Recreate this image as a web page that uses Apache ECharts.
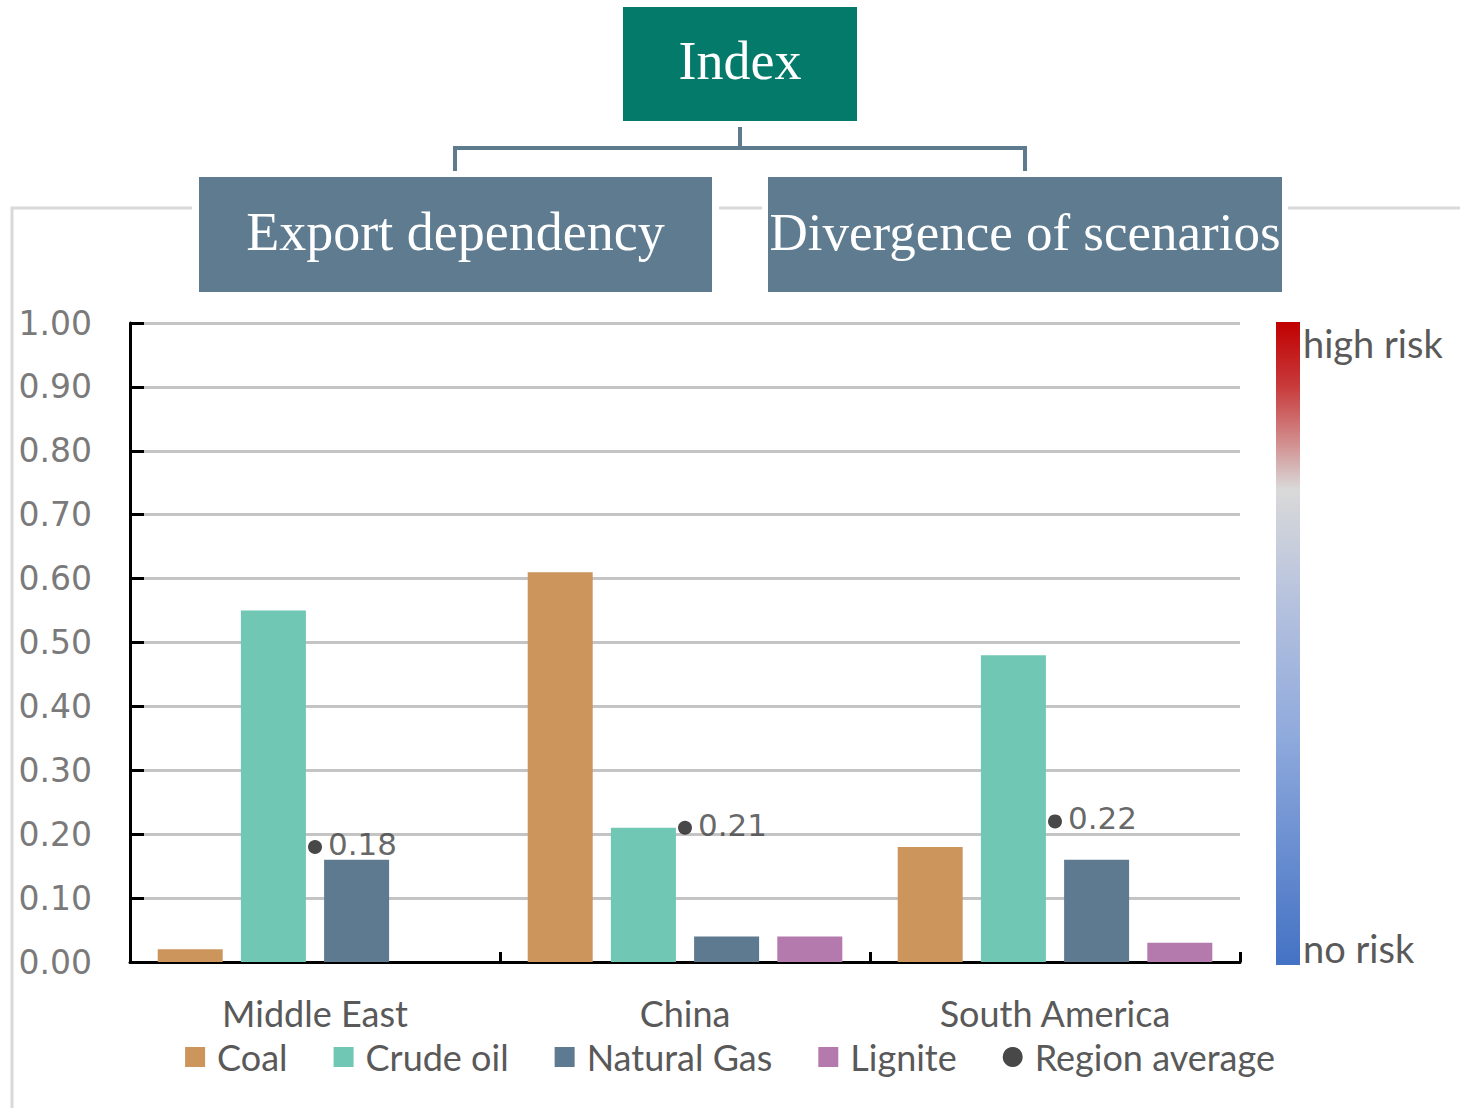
<!DOCTYPE html>
<html>
<head>
<meta charset="utf-8">
<title>Index</title>
<script src="https://cdn.jsdelivr.net/npm/echarts@6/dist/echarts.min.js"></script>
<style>
  html, body { margin: 0; padding: 0; background: #fff; }
  #chart { width: 1460px; height: 1108px; }
</style>
</head>
<body>
<div id="chart"></div>
<script>
// data
var regions = ['Middle East', 'China', 'South America'];
var coal = [0.02, 0.61, 0.18];
var crudeOil = [0.55, 0.21, 0.48];
var naturalGas = [0.16, 0.04, 0.16];
var lignite = [null, 0.04, 0.03];
var regionAverage = [0.18, 0.21, 0.22];
var yTicks = [0, 0.1, 0.2, 0.3, 0.4, 0.5, 0.6, 0.7, 0.8, 0.9, 1.0];

var sans = 'Lato';
var barWidth = 65;

var chart = echarts.init(document.getElementById('chart'), null, { renderer: 'svg' });

function box(x, y, w, h, color, text, size) {
  return {
    type: 'rect',
    shape: { x: x, y: y, width: w, height: h },
    style: { fill: color },
    textContent: {
      style: { text: text, fill: '#fff', font: size + 'px "Liberation Serif", serif' }
    },
    textConfig: { position: 'inside', offset: [0, -3] }
  };
}

var lineColor = '#5e7b8e';
var frameColor = '#d9d9d9';

var option = {
  backgroundColor: '#fff',
  animation: false,
  grid: { left: 130, right: 220, top: 323, bottom: 146 },
  legend: {
    left: 'center',
    top: 1034,
    itemWidth: 20,
    itemHeight: 20,
    itemGap: 46,
    textStyle: { fontFamily: sans, fontSize: 36, lineHeight: 30, color: '#595959', padding: [0, 0, 0, 7] },
    data: [
      { name: 'Coal', icon: 'rect' },
      { name: 'Crude oil', icon: 'rect' },
      { name: 'Natural Gas', icon: 'rect' },
      { name: 'Lignite', icon: 'rect' },
      { name: 'Region average', icon: 'circle' }
    ]
  },
  xAxis: {
    type: 'category',
    data: regions,
    axisLine: { lineStyle: { color: '#000', width: 3 } },
    axisTick: { show: true, inside: true, length: 10, lineStyle: { color: '#000', width: 3 } },
    axisLabel: { margin: 36, fontFamily: sans, fontSize: 36, lineHeight: 30, color: '#595959' },
    splitLine: { show: false }
  },
  yAxis: {
    type: 'value',
    min: 0,
    max: 1,
    interval: 0.1,
    axisLine: { show: true, lineStyle: { color: '#000', width: 3 } },
    axisTick: { show: true, inside: true, length: 14, lineStyle: { color: '#000', width: 3 } },
    axisLabel: {
      margin: 38,
      fontFamily: 'DejaVu Sans',
      fontSize: 33,
      color: '#7a7a7a',
      formatter: function (v) { return v.toFixed(2); },
      customValues: yTicks
    },
    splitLine: { lineStyle: { color: '#c4c4c4', width: 3 } }
  },
  series: [
    { name: 'Coal', type: 'bar', data: coal, barWidth: barWidth, barGap: '28%', itemStyle: { color: '#cc955c' } },
    { name: 'Crude oil', type: 'bar', data: crudeOil, barWidth: barWidth, barGap: '28%', itemStyle: { color: '#6fc7b4' } },
    { name: 'Natural Gas', type: 'bar', data: naturalGas, barWidth: barWidth, barGap: '28%', itemStyle: { color: '#5e7a91' } },
    { name: 'Lignite', type: 'bar', data: lignite, barWidth: barWidth, barGap: '28%', itemStyle: { color: '#b57aad' } },
    {
      name: 'Region average',
      type: 'scatter',
      data: regionAverage,
      symbol: 'circle',
      symbolSize: 14,
      z: 5,
      itemStyle: { color: '#1a1a1a' },
      label: {
        show: true,
        position: 'right',
        distance: 6,
        offset: [0, -3],
        fontFamily: 'DejaVu Sans',
        fontSize: 31,
        color: '#404040',
        formatter: function (p) { return p.value.toFixed(2); }
      }
    }
  ],
  graphic: [
    // outer light frame
    { type: 'polyline', shape: { points: [[12, 1108], [12, 208], [192, 208]] }, style: { stroke: frameColor, lineWidth: 3, fill: null } },
    { type: 'line', shape: { x1: 719, y1: 208, x2: 762, y2: 208 }, style: { stroke: frameColor, lineWidth: 3 } },
    { type: 'line', shape: { x1: 1288, y1: 208, x2: 1460, y2: 208 }, style: { stroke: frameColor, lineWidth: 3 } },
    // tree
    box(623, 7, 234, 114, '#047a6b', 'Index', 54),
    { type: 'line', shape: { x1: 740, y1: 127, x2: 740, y2: 148 }, style: { stroke: lineColor, lineWidth: 4 } },
    { type: 'polyline', shape: { points: [[455, 171], [455, 148], [1025, 148], [1025, 171]] }, style: { stroke: lineColor, lineWidth: 4, fill: null } },
    box(199, 177, 513, 115, '#5e7b90', 'Export dependency', 54),
    box(768, 177, 514, 115, '#5e7b90', 'Divergence of scenarios', 53),
    // risk colour bar
    {
      type: 'rect',
      shape: { x: 1276, y: 322, width: 24, height: 643 },
      style: {
        fill: new echarts.graphic.LinearGradient(0, 0, 0, 1, [
          { offset: 0, color: '#c00000' },
          { offset: 0.1, color: '#c83a3b' },
          { offset: 0.19, color: '#d29090' },
          { offset: 0.26, color: '#d9d9d9' },
          { offset: 0.45, color: '#b3c0de' },
          { offset: 0.65, color: '#8ea9dc' },
          { offset: 1, color: '#4472c4' }
        ])
      }
    },
    { type: 'text', left: 1303, top: 324, style: { text: 'high risk', font: '38px Lato', fill: '#595959' } },
    { type: 'text', left: 1303, top: 929, style: { text: 'no risk', font: '38px Lato', fill: '#595959' } }
  ]
};

chart.setOption(option);
</script>
</body>
</html>
